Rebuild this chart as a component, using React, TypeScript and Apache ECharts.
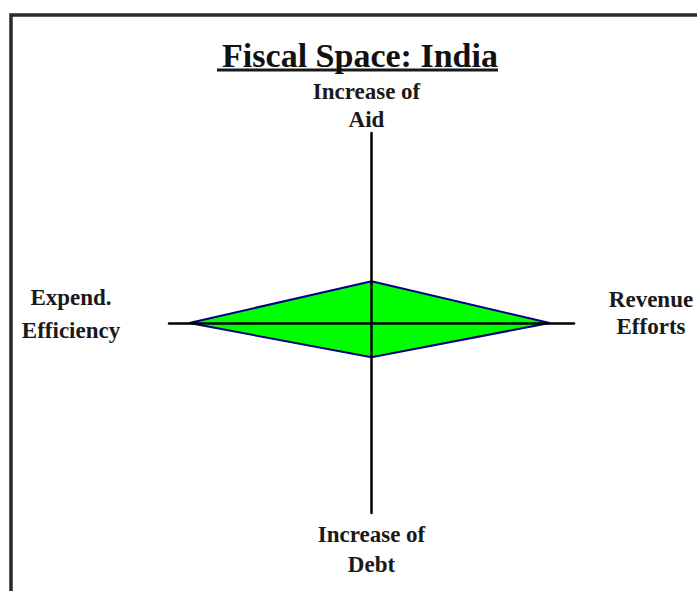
import React, { useEffect, useRef } from "react";
import * as echarts from "echarts";

const title = "Fiscal Space: India";
const axisNames = ["Increase of\nAid", "Revenue\nEfforts", "Increase of\nDebt", "Expend.\nEfficiency"];
// values in order: Aid (up), Revenue (right), Debt (down), Expend. (left)
const values = [0.22, 0.88, 0.18, 0.9];
const axisMax = 1;

export default function App() {
  const ref = useRef<HTMLDivElement>(null);
  useEffect(() => {
    document.body.style.margin = "0";
    const chart = echarts.init(ref.current!, null, { renderer: "svg" });
    const font = "'Liberation Serif', 'Times New Roman', serif";
    const ends = [
      [0, axisMax],
      [axisMax, 0],
      [0, -axisMax],
      [-axisMax, 0],
    ];
    const labelCfg = [
      { offset: [-5, -28], lineHeight: 28 },
      { offset: [77, -10.5], lineHeight: 27 },
      { offset: [0, 36], lineHeight: 30 },
      { offset: [-98, -9.5], lineHeight: 33 },
    ];
    const option: any = {
      animation: false,
      backgroundColor: "#ffffff",
      title: {
        text: title,
        left: 355,
        top: 33,
        textAlign: "center",
        textStyle: {
          fontFamily: font,
          fontWeight: "bold",
          fontSize: 34,
          lineHeight: 34,
          color: "#111",
        },
      },
      graphic: [
        {
          type: "rect",
          shape: { x: 11, y: 15, width: 900, height: 900 },
          style: { fill: "none", stroke: "#2a2a2a", lineWidth: 3.5 },
          silent: true,
        },
        {
          type: "line",
          shape: { x1: 217, y1: 70, x2: 498, y2: 70 },
          style: { stroke: "#1a1a1a", lineWidth: 3 },
          silent: true,
        },
      ],
      grid: { left: 169, right: 123, top: 133, bottom: 78 },
      xAxis: {
        type: "value",
        min: -axisMax,
        max: axisMax,
        z: 5,
        axisLine: { show: true, onZero: true, lineStyle: { color: "#000", width: 2.5 } },
        axisTick: { show: false },
        axisLabel: { show: false },
        splitLine: { show: false },
      },
      yAxis: {
        type: "value",
        min: -axisMax,
        max: axisMax,
        z: 5,
        axisLine: { show: true, onZero: true, lineStyle: { color: "#000", width: 2.5 } },
        axisTick: { show: false },
        axisLabel: { show: false },
        splitLine: { show: false },
      },
      series: [
        {
          type: "custom",
          z: 1,
          data: [[0, 0]],
          renderItem: (params: any, api: any) => {
            const pts = [
              api.coord([0, values[0]]),
              api.coord([values[1], 0]),
              api.coord([0, -values[2]]),
              api.coord([-values[3], 0]),
            ];
            return {
              type: "polygon",
              shape: { points: pts },
              style: { fill: "#00ff00", stroke: "#000080", lineWidth: 2 },
            };
          },
        },
        {
          type: "scatter",
          symbolSize: 0,
          z: 6,
          itemStyle: { opacity: 1 },
          data: ends.map((e, i) => ({
            value: e,
            name: axisNames[i],
            label: {
              show: true,
              position: "inside",
              offset: labelCfg[i].offset,
              lineHeight: labelCfg[i].lineHeight,
              formatter: axisNames[i],
              align: "center",
              verticalAlign: "middle",
              fontFamily: font,
              fontWeight: "bold",
              fontSize: 23,
              color: "#1a1a1a",
              opacity: 1,
            },
          })),
        },
      ],
    };
    chart.setOption(option);
    return () => chart.dispose();
  }, []);
  return <div ref={ref} style={{ width: 697, height: 591 }} />;
}
